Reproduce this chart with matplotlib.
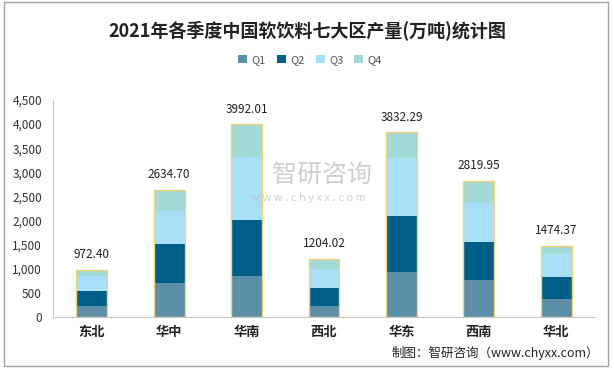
import matplotlib
matplotlib.use("Agg")
import numpy as np
import matplotlib.pyplot as plt
from matplotlib.patches import Rectangle
from matplotlib.ticker import FuncFormatter

plt.rcParams["font.family"] = ["Noto Sans CJK SC", "DejaVu Sans"]

regions = ["东北", "华中", "华南", "西北", "华东", "西南", "华北"]
q1 = [230, 712, 850, 228, 933, 767, 373]
q2 = [310, 802, 1162, 373, 1162, 788, 463]
q3 = [310, 684, 1300, 394, 1203, 809, 477]
q4 = [122.40, 436.70, 680.01, 209.02, 534.29, 455.95, 161.37]
totals = [972.40, 2634.70, 3992.01, 1204.02, 3832.29, 2819.95, 1474.37]

series = [("Q1", q1, "#5b8fa8"), ("Q2", q2, "#005f86"),
          ("Q3", q3, "#a8e0f8"), ("Q4", q4, "#a3d9d6")]

fig = plt.figure(figsize=(6.14, 3.68), dpi=100)
ax = fig.add_axes([53 / 614, 1 - 317 / 368, 542 / 614, 217 / 368])

x = np.arange(len(regions))
w = 0.4
bottom = np.zeros(len(regions))
for name, vals, color in series:
    ax.bar(x, vals, w, bottom=bottom, color=color, label=name, linewidth=0)
    bottom += np.array(vals)

# thin gold outline around each stacked column
for xi, t in zip(x, totals):
    ax.add_patch(Rectangle((xi - w / 2, 0), w, t, fill=False,
                           edgecolor="#f3d27a", linewidth=1.0, zorder=3))
    ax.text(xi, t + 180, f"{t:.2f}", ha="center", va="bottom",
            fontsize=8.5, color="#222222")

ax.set_xlim(-0.5, len(regions) - 0.5)
ax.set_ylim(0, 4500)
ax.set_yticks(np.arange(0, 4501, 500))
ax.yaxis.set_major_formatter(FuncFormatter(lambda v, p: f"{int(v):,}"))
ax.set_xticks(x)
ax.set_xticklabels(regions, fontsize=9.5, fontweight="bold", color="#222222")
ax.tick_params(axis="y", labelsize=8.5, colors="#333333", length=0, pad=8)
ax.tick_params(axis="x", length=0, pad=6)
for s in ("top", "right"):
    ax.spines[s].set_visible(False)
for s in ("left", "bottom"):
    ax.spines[s].set_color("#c8c8c8")

fig.text(0.5, 1 - 30 / 368, "2021年各季度中国软饮料七大区产量(万吨)统计图",
         ha="center", va="center", fontsize=13, fontweight="bold", color="#222222")

fig.legend(loc="center", bbox_to_anchor=(0.505, 1 - 60 / 368), ncol=4,
           frameon=False, fontsize=8, handlelength=0.8, handleheight=0.8,
           columnspacing=1.0, handletextpad=0.4, labelcolor="#555555")

# watermark
fig.text(322 / 614, 1 - 175 / 368, "智研咨询", ha="center", va="center",
         fontsize=18, color="#b0b0b0", alpha=0.6)
fig.text(308 / 614, 1 - 198 / 368, "w w w . c h y x x . c o m", ha="center",
         va="center", fontsize=8, color="#b0b0b0", alpha=0.6)

fig.text(1 - 15 / 614, 1 - 353 / 368, "制图：智研咨询（www.chyxx.com）",
         ha="right", va="center", fontsize=9, color="#222222")

fig.add_artist(Rectangle((4 / 614, 2 / 368), 604 / 614, 364 / 368,
                         transform=fig.transFigure, fill=False,
                         edgecolor="#a0a0a0", linewidth=1.0))

fig.savefig("out.png", dpi=100)
